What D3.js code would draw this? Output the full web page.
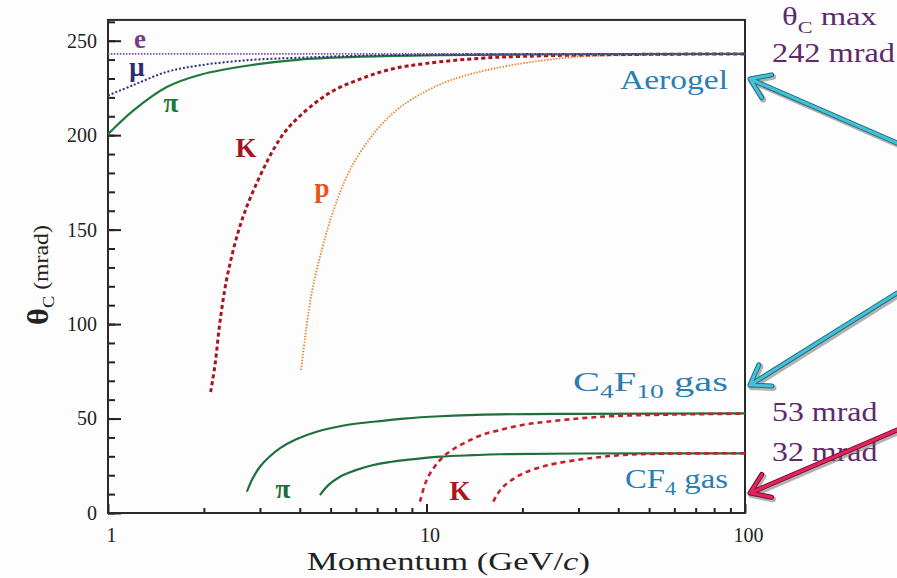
<!DOCTYPE html>
<html>
<head>
<meta charset="utf-8">
<script src="https://cdn.jsdelivr.net/npm/d3@7"></script>
<style>
body { margin: 0; background: #fdfdfd; }
svg { display: block; font-family: "Liberation Serif", "DejaVu Serif", serif; }
</style>
</head>
<body>
<div id="plot"></div>
<script>
// momentum (GeV/c) and Cherenkov angle (mrad)
// aerogel
const eP = [1, 3, 10, 100];
const eTheta = [243, 243, 243, 243];
const muP = [1, 1.2, 1.53, 1.95, 2.8, 4, 6, 10, 20, 100];
const muTheta = [221, 226.5, 233.5, 237, 239.8, 241, 242, 242.6, 242.9, 243];
const piP = [1, 1.2, 1.53, 1.95, 2.8, 4, 6, 10, 20, 100];
const piTheta = [200.5, 213, 225.5, 232, 237, 240, 241.4, 242.2, 242.7, 243];
const kP = [2.1, 2.17, 2.25, 2.39, 2.69, 3.35, 3.78, 4.92, 6.26, 7.78, 10, 14.7, 20, 30, 50, 100];
const kTheta = [64, 79, 102, 128.5, 159.5, 194, 206, 222, 230, 235, 238, 240.7, 241.7, 242.4, 242.8, 243];
const prP = [4.04, 4.16, 4.36, 4.69, 5.1, 5.82, 6.98, 7.96, 9.09, 11.57, 14.72, 18.73, 23.85, 30.3, 50, 100];
const prTheta = [75.7, 93.3, 116.3, 139.2, 160, 183.3, 202.8, 212.5, 219.5, 228.3, 233.6, 237.2, 239.8, 241.6, 242.5, 243];
// C4F10 gas
const c4PiP = [2.73, 2.85, 3.0, 3.2, 3.47, 3.9, 4.52, 5.5, 6.81, 8.5, 11.03, 17, 30, 100];
const c4PiTheta = [11.3, 18.5, 24.5, 29.5, 34.3, 39, 43, 46.3, 48.3, 50, 51.2, 52.2, 52.5, 52.7];
const c4KP = [9.54, 10.01, 10.6, 11.29, 12.2, 13.37, 15, 17, 20, 23.85, 30.3, 38.6, 54.1, 100];
const c4KTheta = [6, 17.5, 24.5, 29.8, 34, 37.7, 41.5, 43.9, 46.6, 48.3, 50.1, 51.3, 52, 52.6];
// CF4 gas
const cf4PiP = [4.63, 4.9, 5.35, 6, 6.81, 7.7, 8.66, 11.03, 14, 17, 30, 100];
const cf4PiTheta = [9.5, 14.5, 19.2, 22.7, 25.4, 27, 28.1, 29.8, 30.6, 31.1, 31.5, 31.6];
const cf4KP = [16.21, 16.7, 17.42, 18.6, 20.14, 22.5, 25.63, 32.6, 41.5, 55.4, 100];
const cf4KTheta = [6, 10, 13.9, 17.7, 21, 24, 26.3, 29, 30.7, 31.4, 31.6];

const yTicks = [0, 50, 100, 150, 200, 250];
const xLabels = [1, 10, 100];

const W = 897, H = 578;
const svg = d3.select("#plot").append("svg").attr("width", W).attr("height", H);

const x = d3.scaleLog().domain([1, 100]).range([108, 745]);
const y = d3.scaleLinear().domain([0, 250]).range([513, 40.7]);

// stretch a text horizontally so it covers [x0, x0+w]
function stretch(t, x0, w) {
    const b = t.node().getBBox();
    t.attr("transform", `translate(${x0},0) scale(${w / b.width},1) translate(${-b.x},0)`);
}

// axes
const yMinor = svg.append("g").attr("transform", "translate(108,0)")
    .call(d3.axisLeft(y).tickValues(d3.range(0, 261, 10)).tickSize(-7).tickFormat(""));
const yMajor = svg.append("g").attr("transform", "translate(108,0)")
    .call(d3.axisLeft(y).tickValues(yTicks).tickSize(-13).tickPadding(11));
yMajor.selectAll("text").style("font-size", "20px").attr("fill", "#222");

const minorX = [2, 3, 4, 5, 6, 7, 8, 9, 20, 30, 40, 50, 60, 70, 80, 90];
const xMinor = svg.append("g").attr("transform", "translate(0,513)")
    .call(d3.axisBottom(x).tickValues(minorX).tickSize(-5).tickFormat(""));
const xMajor = svg.append("g").attr("transform", "translate(0,513)")
    .call(d3.axisBottom(x).tickValues(xLabels).tickSize(-9).tickFormat(d3.format("d")));
xMajor.selectAll("text").attr("y", 29).attr("dy", 0).attr("dx", 3)
    .style("font-size", "20px").attr("fill", "#222");

[yMinor, yMajor, xMinor, xMajor].forEach(g => {
    g.attr("font-family", null).attr("font-size", null);
    g.select(".domain").remove();
    g.selectAll("line").attr("stroke", "#222").attr("stroke-width", 2);
});

svg.append("rect").attr("x", 108).attr("y", y(261)).attr("width", 637).attr("height", 513 - y(261))
    .attr("fill", "none").attr("stroke", "#2a2a2a").attr("stroke-width", 2);

// curves
const line = d3.line().x(d => x(d[0])).y(d => y(d[1])).curve(d3.curveCatmullRom.alpha(0.5));
const series = [
    {p: prP, t: prTheta, color: "#ee7d22", w: 1.8, dash: "1.4,1.6"},
    {p: kP, t: kTheta, color: "#a8141e", w: 3, dash: "4,3"},
    {p: piP, t: piTheta, color: "#1f7a3a", w: 2.2, dash: null},
    {p: muP, t: muTheta, color: "#2e2e7a", w: 2, dash: "2,2"},
    {p: eP, t: eTheta, color: "#7a4a9a", w: 1.6, dash: "1.5,1.5"},
    {p: c4PiP, t: c4PiTheta, color: "#1f6e3c", w: 2.2, dash: null},
    {p: cf4PiP, t: cf4PiTheta, color: "#1f6e3c", w: 2.2, dash: null},
    {p: c4KP, t: c4KTheta, color: "#c81e2c", w: 2.6, dash: "5,4"},
    {p: cf4KP, t: cf4KTheta, color: "#c81e2c", w: 2.6, dash: "5,4"}
];
series.forEach(s => {
    svg.append("path")
        .datum(s.p.map((d, i) => [d, s.t[i]]))
        .attr("fill", "none")
        .attr("stroke", s.color)
        .attr("stroke-width", s.w)
        .attr("stroke-dasharray", s.dash)
        .attr("d", line);
});

// particle labels
const plabels = [
    {txt: "e", x: 140, y: 48, color: "#7b3b8c"},
    {txt: "μ", x: 137, y: 76, color: "#2c2c78"},
    {txt: "π", x: 171, y: 112, color: "#1e7a3c"},
    {txt: "K", x: 246, y: 157, color: "#a3141c"},
    {txt: "p", x: 322, y: 197, color: "#e8551a"},
    {txt: "π", x: 283, y: 498, color: "#1e6e3c"},
    {txt: "K", x: 460, y: 500, color: "#b0141e"}
];
plabels.forEach(l => {
    svg.append("text").attr("x", l.x).attr("y", l.y).attr("text-anchor", "middle")
        .attr("fill", l.color).style("font-size", "27px").style("font-weight", "bold").text(l.txt);
});

// axis titles
const xt = svg.append("text").attr("y", 570).attr("fill", "#222").style("font-size", "25px");
xt.append("tspan").text("Momentum  (GeV/");
xt.append("tspan").style("font-style", "italic").text("c");
xt.append("tspan").text(")");
stretch(xt, 307, 283);

const yg = svg.append("g").attr("transform", "translate(48,275) rotate(-90)");
const yt = yg.append("text").attr("y", 0).attr("fill", "#222").style("font-size", "22px");
yt.append("tspan").style("font-weight", "bold").style("font-size", "30px").text("θ");
yt.append("tspan").attr("dy", 6).style("font-size", "17px").text("C");
yt.append("tspan").attr("dy", -6).text(" (mrad)");
stretch(yt, -50, 100);

// right side annotations
const purple = "#5e2a6e", blue = "#2b7db3";
function label(parts, x0, w, yb, color, size) {
    const t = svg.append("text").attr("y", yb).attr("fill", color).style("font-size", size + "px");
    parts.forEach(p => {
        const s = t.append("tspan").text(p.t);
        if (p.sub) s.attr("dy", p.sub).style("font-size", (size * 0.68) + "px");
        if (p.back) s.attr("dy", p.back);
    });
    stretch(t, x0, w);
}
label([{t: "θ"}, {t: "C", sub: 8}, {t: " max", back: -8}], 782, 95, 25, purple, 26);
label([{t: "242 mrad"}], 772, 123, 62, purple, 28);
label([{t: "Aerogel"}], 620, 108, 89, blue, 27);
label([{t: "C"}, {t: "4", sub: 7}, {t: "F", back: -7}, {t: "10", sub: 7}, {t: " gas", back: -7}], 573, 155, 391, blue, 27);
label([{t: "53 mrad"}], 772, 106, 421, purple, 27);
label([{t: "32 mrad"}], 772, 106, 461, purple, 27);
label([{t: "CF"}, {t: "4", sub: 7}, {t: " gas", back: -7}], 625, 103, 488, blue, 27);

// arrows pointing at the radiator labels
const arrows = [
    {from: [897, 143], to: [750, 79], fill: "#45c0d6", edge: "#1d6f80"},
    {from: [897, 293], to: [750, 385], fill: "#45c0d6", edge: "#1d6f80"},
    {from: [897, 430], to: [750, 493], fill: "#e3245e", edge: "#7a0c2e"}
];
arrows.forEach(a => {
    const ang = Math.atan2(a.from[1] - a.to[1], a.from[0] - a.to[0]);
    const L = 22, spread = 0.6;
    const p1 = [a.to[0] + L * Math.cos(ang - spread), a.to[1] + L * Math.sin(ang - spread)];
    const p2 = [a.to[0] + L * Math.cos(ang + spread), a.to[1] + L * Math.sin(ang + spread)];
    const d = `M${a.from}L${a.to}M${p1}L${a.to}L${p2}`;
    svg.append("path").attr("d", d).attr("transform", "translate(1.5,2)")
        .attr("fill", "none").attr("stroke", "#666").attr("stroke-opacity", 0.5)
        .attr("stroke-width", 6).attr("stroke-linecap", "round").attr("stroke-linejoin", "round");
    svg.append("path").attr("d", d).attr("fill", "none").attr("stroke", a.edge)
        .attr("stroke-width", 5).attr("stroke-linecap", "round").attr("stroke-linejoin", "round");
    svg.append("path").attr("d", d).attr("fill", "none").attr("stroke", a.fill)
        .attr("stroke-width", 3).attr("stroke-linecap", "round").attr("stroke-linejoin", "round");
});
</script>
</body>
</html>
